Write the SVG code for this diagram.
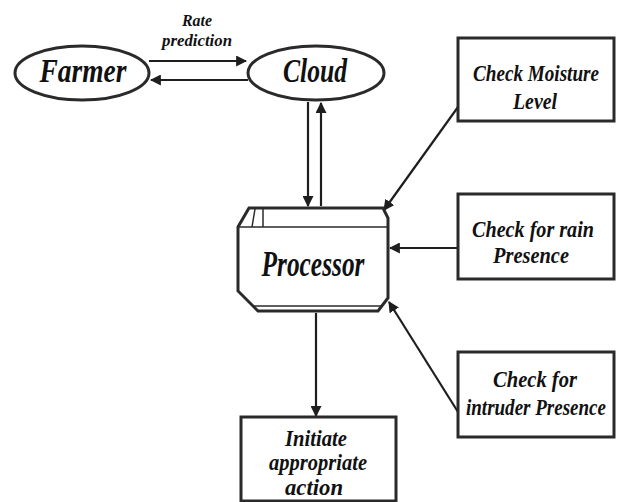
<svg xmlns="http://www.w3.org/2000/svg" width="622" height="502" viewBox="0 0 622 502">
  <style>
    .shape { fill: #ffffff; stroke: #2a2a2a; stroke-width: 3; }
    .thin { fill: none; stroke: #2a2a2a; stroke-width: 1.5; }
    .link { fill: none; stroke: #1e1e1e; stroke-width: 2.2; }
    .lbl { font-family: "Liberation Serif", "Times New Roman", serif; font-weight: bold; font-style: italic; fill: #111111; text-anchor: middle; }
  </style>
  <defs>
    <marker id="arrow" viewBox="0 0 10 10" refX="9" refY="5" markerWidth="5" markerHeight="5" orient="auto" markerUnits="strokeWidth">
      <path d="M0,0 L10,5 L0,10 z" fill="#1e1e1e"/>
    </marker>
  </defs>
  <rect width="622" height="502" fill="#ffffff"/>

  <g id="connectors">
    <line class="link" x1="149" y1="61" x2="246" y2="61" marker-end="url(#arrow)"/>
    <line class="link" x1="248" y1="80" x2="151" y2="80" marker-end="url(#arrow)"/>
    <line class="link" x1="308" y1="102" x2="308" y2="206" marker-end="url(#arrow)"/>
    <line class="link" x1="321" y1="206" x2="321" y2="103" marker-end="url(#arrow)"/>
    <line class="link" x1="458" y1="107" x2="384" y2="210" marker-end="url(#arrow)"/>
    <line class="link" x1="458" y1="248" x2="390" y2="248" marker-end="url(#arrow)"/>
    <line class="link" x1="458" y1="412" x2="389" y2="302" marker-end="url(#arrow)"/>
    <line class="link" x1="316" y1="313" x2="316" y2="416" marker-end="url(#arrow)"/>
    <text class="lbl" x="197" y="26" font-size="17" textLength="30" lengthAdjust="spacingAndGlyphs">Rate</text>
    <text class="lbl" x="197" y="46" font-size="17" textLength="70" lengthAdjust="spacingAndGlyphs">prediction</text>
  </g>

  <g id="farmer">
    <ellipse class="shape" cx="82" cy="73" rx="67" ry="27" stroke-width="2"/>
    <text class="lbl" x="83" y="82" font-size="34" textLength="87" lengthAdjust="spacingAndGlyphs">Farmer</text>
  </g>

  <g id="cloud">
    <ellipse class="shape" cx="316" cy="73" rx="68" ry="27" stroke-width="2"/>
    <text class="lbl" x="315" y="82" font-size="34" textLength="64" lengthAdjust="spacingAndGlyphs">Cloud</text>
  </g>

  <g id="processor">
    <path class="shape" d="M249,208 L383,208 L388,218 L388,298 L378,311 L258,311 L238,291 L238,227 Z"/>
    <line class="thin" x1="238" y1="227" x2="388" y2="227" stroke-width="2.5"/>
    <line class="thin" x1="255" y1="209" x2="252" y2="227"/>
    <line class="thin" x1="263" y1="209" x2="263" y2="227"/>
    <line class="thin" x1="252" y1="306" x2="383" y2="306" stroke="#9a9a9a"/>
    <text class="lbl" x="313" y="276" font-size="36" textLength="103" lengthAdjust="spacingAndGlyphs">Processor</text>
  </g>

  <g id="moisture">
    <rect class="shape" x="458" y="38" width="156" height="83"/>
    <text class="lbl" x="536" y="81" font-size="24" textLength="126" lengthAdjust="spacingAndGlyphs">Check Moisture</text>
    <text class="lbl" x="535" y="109" font-size="24" textLength="44" lengthAdjust="spacingAndGlyphs">Level</text>
  </g>

  <g id="rain">
    <rect class="shape" x="458" y="194" width="156" height="85"/>
    <text class="lbl" x="533" y="237" font-size="24" textLength="122" lengthAdjust="spacingAndGlyphs">Check for rain</text>
    <text class="lbl" x="531" y="263" font-size="24" textLength="76" lengthAdjust="spacingAndGlyphs">Presence</text>
  </g>

  <g id="intruder">
    <rect class="shape" x="458" y="352" width="156" height="85"/>
    <text class="lbl" x="535" y="387" font-size="24" textLength="84" lengthAdjust="spacingAndGlyphs">Check for</text>
    <text class="lbl" x="536" y="415" font-size="24" textLength="140" lengthAdjust="spacingAndGlyphs">intruder Presence</text>
  </g>

  <g id="action">
    <rect class="shape" x="241" y="417" width="155" height="84"/>
    <text class="lbl" x="316" y="446" font-size="23" textLength="62" lengthAdjust="spacingAndGlyphs">Initiate</text>
    <text class="lbl" x="318" y="470" font-size="23" textLength="98" lengthAdjust="spacingAndGlyphs">appropriate</text>
    <text class="lbl" x="314" y="495" font-size="23" textLength="58" lengthAdjust="spacingAndGlyphs">action</text>
  </g>
</svg>
